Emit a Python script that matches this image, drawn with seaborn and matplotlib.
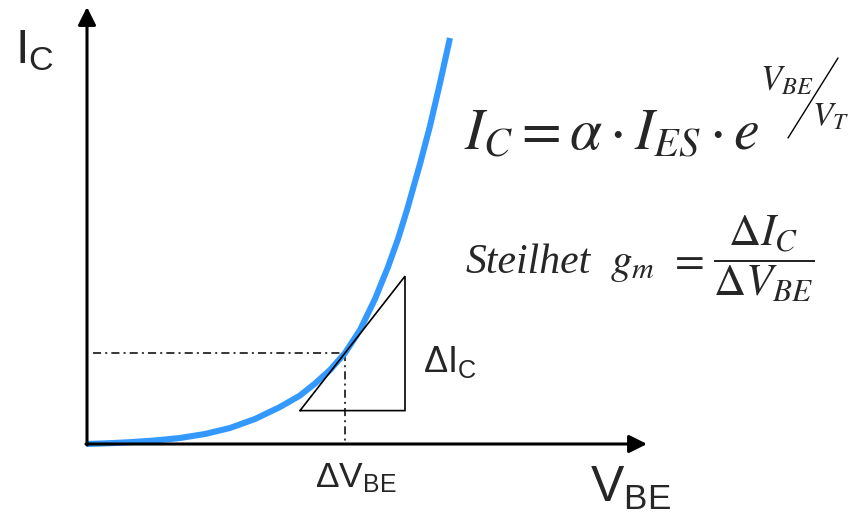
import matplotlib
matplotlib.use("Agg")
import matplotlib.pyplot as plt
import numpy as np
import pandas as pd
import seaborn as sns

# Transfer characteristic I_C(V_BE), arbitrary units measured from the origin
vbe = [0, 23, 43, 68, 93, 118, 143, 168, 193, 213, 228, 243, 258,
       273, 288, 301, 311, 320, 333, 343, 353, 363]
ic = [0, 0.8, 1.8, 3.5, 6, 10, 16, 25, 37, 48.5, 60.5, 74, 91,
      114, 145, 177, 205, 234, 280, 318, 361, 406]

# Operating point and the tangent (transconductance) triangle
op_vbe = 258
op_ic = 91
slope = 1.28
tri_vbe = [213, 318]

# Axis extents
x_end = 560
y_end = 437

sns.set_theme(style="white")
plt.rcParams["font.family"] = ["Liberation Sans", "DejaVu Sans"]

W, H = 859, 516
fig = plt.figure(figsize=(W / 100, H / 100), dpi=100)
ax = fig.add_axes([0, 0, 1, 1])
X0, Y0 = 87, 444  # pixel position of the origin
ax.set_xlim(-X0, W - X0)
ax.set_ylim(Y0 - H, Y0)
ax.axis("off")


def P(px, py):
    """Pixel position -> data coordinates (for text placement)."""
    return px - X0, Y0 - py


df = pd.DataFrame({"VBE": vbe, "IC": ic})

# axes with arrow heads
arrow = dict(arrowstyle="-|>,head_length=0.4,head_width=0.2", mutation_scale=27,
             lw=2.2, color="black", shrinkA=0, shrinkB=0)
ax.annotate("", xy=(0, y_end), xytext=(0, -1), arrowprops=arrow)
ax.annotate("", xy=(x_end, 0), xytext=(-1, 0), arrowprops=arrow)

# dash-dot guides to the operating point
dd = (0, (5.3, 2.7, 1.3, 2.7))
ax.plot([6, op_vbe], [op_ic, op_ic], color="black", lw=1.1, linestyle=dd)
ax.plot([op_vbe, op_vbe], [op_ic, 0], color="black", lw=1.1, linestyle=dd)

# characteristic curve
sns.lineplot(data=df, x="VBE", y="IC", ax=ax, color="#3399FF", lw=4.4,
             sort=False, estimator=None, legend=False)
ax.lines[-1].set_solid_capstyle("butt")
ax.lines[-1].set_solid_joinstyle("round")

# tangent triangle
t_lo = op_ic + slope * (tri_vbe[0] - op_vbe)
t_hi = op_ic + slope * (tri_vbe[1] - op_vbe)
ax.plot([tri_vbe[0], tri_vbe[1], tri_vbe[1], tri_vbe[0]],
        [t_lo, t_hi, t_lo, t_lo], color="black", lw=1.2, solid_joinstyle="miter")

# axis labels
ax.text(*P(15, 63), r"$\mathregular{I_C}$", fontsize=35, ha="left", va="baseline")
ax.text(*P(590, 502), r"$\mathregular{V_{BE}}$", fontsize=36, ha="left", va="baseline")
ax.text(*P(315, 487), r"$\mathregular{ΔV_{BE}}$", fontsize=25.5, ha="left", va="baseline")
ax.text(*P(423, 372), r"$\mathregular{ΔI_C}$", fontsize=26, ha="left", va="baseline")

# formulas
ax.text(*P(464, 150), r"$I_C = \alpha \cdot I_{ES} \cdot e$", fontsize=41.5,
        math_fontfamily="stix", ha="left", va="baseline")
ax.text(*P(760, 90), r"$V_{BE}$", fontsize=25, math_fontfamily="stix",
        ha="left", va="baseline")
ax.plot([P(788, 0)[0], P(838, 0)[0]], [P(0, 138)[1], P(0, 58)[1]],
        color="black", lw=1.0)
ax.text(*P(812, 126), r"$V_T$", fontsize=24, math_fontfamily="stix",
        ha="left", va="baseline")

ax.text(*P(466, 273), "Steilhet", fontsize=30, family="Liberation Serif",
        style="italic", ha="left", va="baseline")
ax.text(*P(610, 273), r"$g_m$", fontsize=31,
        math_fontfamily="stix", ha="left", va="baseline")
ax.text(*P(686, 272), r"$=$", fontsize=31,
        math_fontfamily="stix", ha="center", va="baseline")
ax.text(*P(764, 241), r"$\dfrac{\Delta I_C}{\Delta V_{BE}}$", fontsize=32,
        math_fontfamily="stix", ha="center", va="center_baseline")

fig.savefig("out.png", dpi=100, facecolor="white")
